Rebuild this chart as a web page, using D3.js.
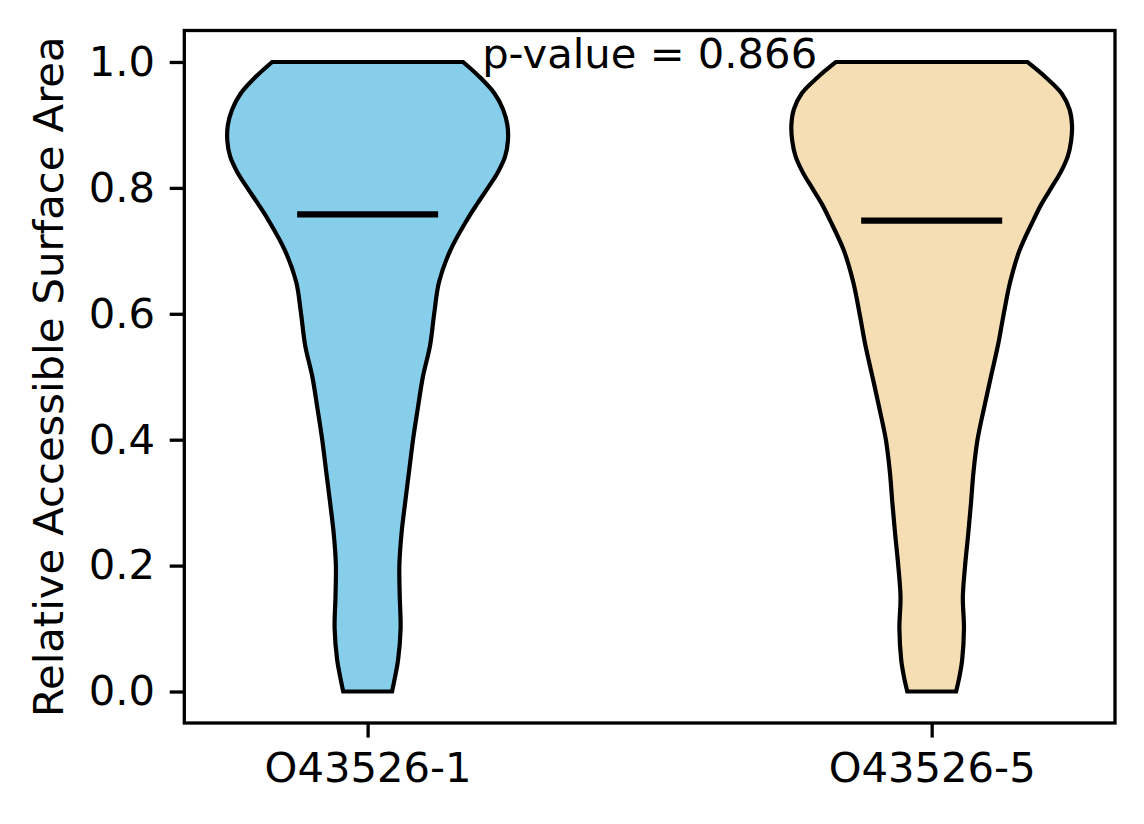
<!DOCTYPE html>
<html>
<head>
<meta charset="utf-8">
<script src="https://cdn.jsdelivr.net/npm/d3@7"></script>
<style>
  body { margin: 0; background: #fff; }
  text { font-family: "DejaVu Sans", sans-serif; }
</style>
</head>
<body>
<div id="vis"></div>
<script>
const FRAME_WIDTH = 1144;
const FRAME_HEIGHT = 824;
const MARGINS = {left: 184.3, right: 29, top: 30.5, bottom: 101};
const VIS_WIDTH = FRAME_WIDTH - MARGINS.left - MARGINS.right;
const VIS_HEIGHT = FRAME_HEIGHT - MARGINS.top - MARGINS.bottom;

// data
const categories = ["O43526-1", "O43526-5"];
const positions = [1, 2];
const colors = ["#87CEEB", "#F5DEB3"];
const medians = [0.758, 0.748];
const pValue = "0.866";
const yTicks = [0.0, 0.2, 0.4, 0.6, 0.8, 1.0];

// relative density (max = 1) along RSA
const rsaGrid = [0, 0.025, 0.05, 0.1, 0.15, 0.2, 0.25, 0.3, 0.35, 0.4, 0.45, 0.5,
                 0.55, 0.6, 0.65, 0.7, 0.75, 0.775, 0.8, 0.825, 0.85, 0.875, 0.9,
                 0.925, 0.95, 0.975, 1.0];
const density1 = [0.173, 0.196, 0.216, 0.234, 0.228, 0.225, 0.240, 0.266, 0.294, 0.322, 0.356, 0.392,
                  0.443, 0.472, 0.506, 0.585, 0.707, 0.778, 0.853, 0.924, 0.975, 0.995, 0.991,
                  0.960, 0.900, 0.800, 0.677];
const density2 = [0.173, 0.198, 0.216, 0.229, 0.221, 0.237, 0.259, 0.279, 0.297, 0.325, 0.371, 0.420,
                  0.470, 0.511, 0.556, 0.622, 0.724, 0.780, 0.848, 0.915, 0.965, 0.989, 0.995,
                  0.977, 0.922, 0.812, 0.678];
const densities = [density1, density2];
const violinWidth = 0.5;

const FRAME = d3.select("#vis")
    .append("svg")
    .attr("width", FRAME_WIDTH)
    .attr("height", FRAME_HEIGHT);

const X_SCALE = d3.scaleLinear()
    .domain([0.675, 2.325])
    .range([MARGINS.left, MARGINS.left + VIS_WIDTH]);
const Y_SCALE = d3.scaleLinear()
    .domain([-0.05, 1.05])
    .range([MARGINS.top + VIS_HEIGHT, MARGINS.top]);

// violins
densities.forEach((dens, i) => {
    const pts = rsaGrid.map((v, j) => ({v: v, d: dens[j]}));
    const area = d3.area()
        .y((p) => Y_SCALE(p.v))
        .x0((p) => X_SCALE(positions[i] - p.d * violinWidth / 2))
        .x1((p) => X_SCALE(positions[i] + p.d * violinWidth / 2))
        .curve(d3.curveCatmullRom);
    FRAME.append("path")
        .datum(pts)
        .attr("d", area)
        .attr("fill", colors[i])
        .attr("stroke", "#000")
        .attr("stroke-width", 4.2)
        .attr("stroke-linejoin", "miter");

    // median line
    FRAME.append("line")
        .attr("x1", X_SCALE(positions[i] - violinWidth / 4))
        .attr("x2", X_SCALE(positions[i] + violinWidth / 4))
        .attr("y1", Y_SCALE(medians[i]))
        .attr("y2", Y_SCALE(medians[i]))
        .attr("stroke", "#000")
        .attr("stroke-width", 6.25);
});

// axes
const yAxis = FRAME.append("g")
    .attr("transform", "translate(" + MARGINS.left + ",0)")
    .call(d3.axisLeft(Y_SCALE).tickValues(yTicks).tickFormat(d3.format(".1f"))
        .tickSize(14.6).tickSizeOuter(0).tickPadding(14.6));
const xAxis = FRAME.append("g")
    .attr("transform", "translate(0," + (MARGINS.top + VIS_HEIGHT) + ")")
    .call(d3.axisBottom(X_SCALE).tickValues(positions).tickFormat((d, i) => categories[i])
        .tickSize(14.6).tickSizeOuter(0).tickPadding(14.6));

[yAxis, xAxis].forEach((g) => {
    g.select(".domain").remove();
    g.selectAll("line").attr("stroke", "#000").attr("stroke-width", 3.3);
    g.selectAll("text")
        .attr("fill", "#000")
        .attr("font-size", "41.7px")
        .attr("font-family", "DejaVu Sans");
});

// frame
FRAME.append("rect")
    .attr("x", MARGINS.left)
    .attr("y", MARGINS.top)
    .attr("width", VIS_WIDTH)
    .attr("height", VIS_HEIGHT)
    .attr("fill", "none")
    .attr("stroke", "#000")
    .attr("stroke-width", 3.3);

// y label
FRAME.append("text")
    .attr("transform", "translate(63," + (MARGINS.top + VIS_HEIGHT / 2) + ") rotate(-90)")
    .attr("text-anchor", "middle")
    .attr("font-size", "41.7px")
    .attr("fill", "#000")
    .text("Relative Accessible Surface Area");

// p-value annotation
FRAME.append("text")
    .attr("x", X_SCALE(1.5))
    .attr("y", Y_SCALE(1.0) + 6.5)
    .attr("text-anchor", "middle")
    .attr("font-size", "41.7px")
    .attr("fill", "#000")
    .text("p-value = " + pValue);
</script>
</body>
</html>
